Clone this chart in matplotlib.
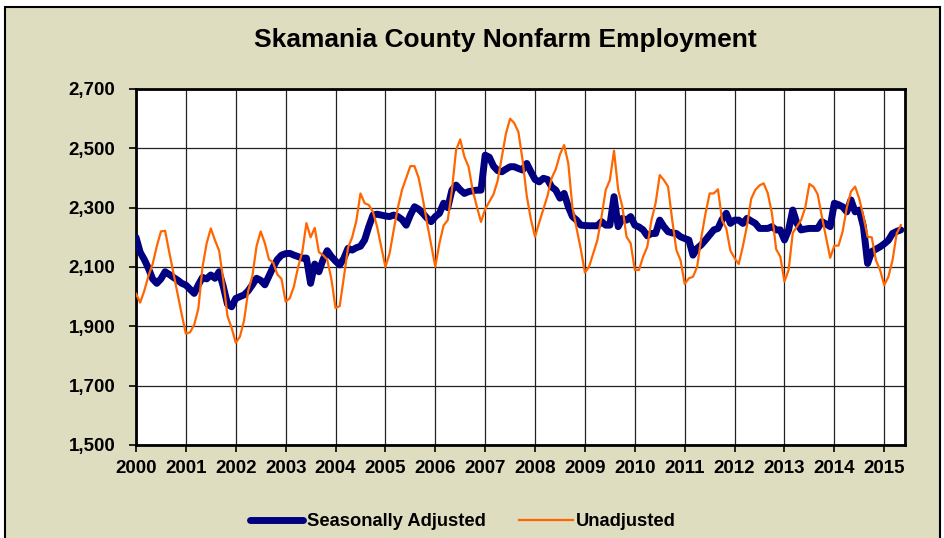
import matplotlib
matplotlib.use("Agg")
import matplotlib.pyplot as plt
from matplotlib.patches import Rectangle
import numpy as np

title = "Skamania County Nonfarm Employment"
start_year = 2000
year_ticks = list(range(2000, 2016))
y_ticks = [1500, 1700, 1900, 2100, 2300, 2500, 2700]

# Monthly values, Jan 2000 .. May 2015
seasonally_adjusted = [
    2200, 2150, 2125, 2095, 2060, 2045, 2060, 2084, 2075, 2065, 2056, 2045,
    2039, 2025, 2011, 2040, 2065, 2060, 2073, 2062, 2084, 2034, 1975, 1966,
    1994, 2000, 2006, 2020, 2040, 2062, 2055, 2040, 2070, 2100, 2125, 2140,
    2145, 2146, 2140, 2135, 2130, 2130, 2045, 2110, 2084, 2125, 2155, 2135,
    2120, 2107, 2129, 2163, 2157, 2165, 2170, 2191, 2236, 2275, 2278, 2275,
    2272, 2270, 2275, 2270, 2260, 2241, 2275, 2303, 2295, 2281, 2265, 2253,
    2270, 2281, 2315, 2300, 2359, 2376, 2360, 2348, 2354, 2357, 2359, 2359,
    2477, 2470, 2440, 2425, 2421, 2430, 2438, 2438, 2432, 2427, 2449, 2421,
    2395, 2387, 2399, 2395, 2370, 2359, 2332, 2348, 2303, 2270, 2258, 2241,
    2240, 2239, 2239, 2239, 2253, 2241, 2241, 2337, 2236, 2264, 2258, 2270,
    2241, 2235, 2225, 2205, 2213, 2213, 2258, 2236, 2219, 2215, 2213, 2202,
    2196, 2191, 2140, 2163, 2175, 2191, 2208, 2225, 2230, 2260, 2281, 2247,
    2258, 2258, 2247, 2264, 2255, 2247, 2230, 2230, 2230, 2236, 2225, 2225,
    2191, 2225, 2292, 2247, 2225, 2228, 2230, 2230, 2230, 2253, 2245, 2236,
    2315, 2310, 2303, 2286, 2326, 2286, 2292, 2236, 2112, 2152, 2160, 2168,
    2178, 2190, 2213, 2220, 2225,
]

unadjusted = [
    2010, 1980, 2020, 2070, 2110, 2170, 2220, 2222, 2150, 2080, 2010, 1940,
    1875, 1880, 1905, 1960, 2100, 2180, 2230, 2190, 2155, 2055, 1935, 1895,
    1845, 1865, 1920, 2020, 2070, 2170, 2220, 2180, 2125, 2115, 2075, 2060,
    1983, 1995, 2035, 2100, 2150, 2248, 2200, 2232, 2150, 2140, 2125, 2060,
    1962, 1968, 2065, 2165, 2200, 2255, 2348, 2315, 2309, 2286, 2236, 2168,
    2100, 2145, 2225, 2300, 2360, 2400, 2440, 2440, 2400, 2330, 2250, 2175,
    2101, 2180, 2240, 2258, 2359, 2494, 2530, 2472, 2438, 2359, 2303, 2252,
    2295, 2320, 2345, 2390, 2470, 2550, 2600, 2585, 2555, 2460, 2340, 2260,
    2202, 2250, 2295, 2340, 2400, 2430, 2480, 2511, 2449, 2300, 2230, 2160,
    2081, 2101, 2146, 2191, 2270, 2360, 2393, 2492, 2360, 2303, 2202, 2180,
    2090, 2090, 2135, 2168, 2258, 2315, 2410, 2393, 2371, 2258, 2157, 2123,
    2043, 2062, 2067, 2101, 2200, 2280, 2348, 2348, 2362, 2258, 2230, 2155,
    2130, 2110, 2170, 2240, 2330, 2360, 2375, 2382, 2348, 2280, 2160, 2135,
    2051, 2090, 2215, 2236, 2258, 2300, 2380, 2370, 2345, 2270, 2200, 2131,
    2172, 2172, 2220, 2300, 2354, 2371, 2330, 2270, 2202, 2200, 2123, 2090,
    2039, 2067, 2123, 2213, 2241,
]

x = start_year + np.arange(len(unadjusted)) / 12.0

plt.rcParams['font.family'] = ['Liberation Sans', 'DejaVu Sans']

W, H = 945, 538
fig = plt.figure(figsize=(W / 100, H / 100), dpi=100)
fig.patch.set_facecolor('white')
bg = Rectangle((5 / W, -0.05), 935 / W, 1.05 - 7 / H, transform=fig.transFigure,
               facecolor='#DFDDC0', edgecolor='black', linewidth=1.5, zorder=-10)
fig.patches.append(bg)

ax = fig.add_axes([136 / W, 1 - 445 / H, (905 - 136) / W, (445 - 89) / H])
ax.set_zorder(1)
ax.set_facecolor('white')

ax.plot(x, seasonally_adjusted, color='#000080', lw=5.0, solid_capstyle='round',
        solid_joinstyle='round', label='Seasonally Adjusted', zorder=3)
ax.plot(x, unadjusted, color='#FF6600', lw=1.6, label='Unadjusted', zorder=4)

ax.set_xlim(start_year, start_year + 185 / 12.0)
ax.set_ylim(1500, 2700)
ax.set_xticks(year_ticks)
ax.set_xticklabels([str(y) for y in year_ticks])
ax.set_yticks(y_ticks)
ax.set_yticklabels([f"{v:,}" for v in y_ticks])
ax.grid(True, color='#222222', lw=0.9)
ax.set_axisbelow(True)
for s in ax.spines.values():
    s.set_linewidth(2.0)
    s.set_color('black')
ax.tick_params(axis='both', direction='out', length=5, width=1.2, color='black',
               labelsize=13.5)
ax.tick_params(axis='y', pad=10)
ax.tick_params(axis='x', pad=6)
for lbl in ax.get_xticklabels() + ax.get_yticklabels():
    lbl.set_fontweight('bold')

fig.text(505 / W, 1 - 40 / H, title, ha='center', va='center', fontsize=19,
         fontweight='bold')

leg = fig.legend(loc='center', bbox_to_anchor=(463 / W, 1 - 522 / H), ncol=2,
                 frameon=False, prop={'weight': 'bold', 'size': 13.2},
                 handlelength=2.9, handletextpad=0.2, columnspacing=1.85,
                 borderpad=0.0, borderaxespad=0.0)

fig.savefig('out.png', dpi=100, facecolor=fig.get_facecolor())
